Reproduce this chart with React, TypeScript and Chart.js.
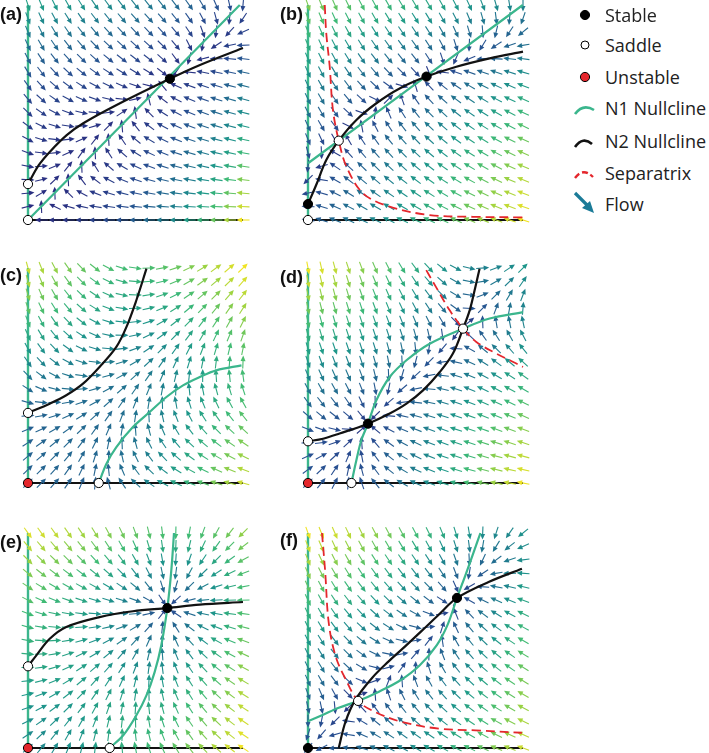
import React, { useEffect, useRef } from "react";
import { Chart, registerables } from "chart.js";
Chart.register(...registerables);

type P = [number, number];

// ---------- grid of flow arrows (both axes) ----------
const GRID: number[] = [0, 0.0625, 0.125, 0.1875, 0.25, 0.3125, 0.375, 0.4375, 0.5, 0.5625, 0.625, 0.6875, 0.75, 0.8125, 0.875, 0.9375, 1];

// ---------- panel (a) ----------
const A_N1: P[] = [[0, 0], [0.985, 1]];
const A_N2: P[] = [[0, 0.167], [0.05, 0.255], [0.102, 0.318], [0.18, 0.395], [0.257, 0.45], [0.412, 0.535], [0.66, 0.657], [0.8, 0.721], [1, 0.8]];
const A_SEP: P[] = [];
const A_STABLE: P[] = [[0.66, 0.657]];
const A_SADDLE: P[] = [[0, 0], [0, 0.167]];
const A_UNSTABLE: P[] = [];

// ---------- panel (b) ----------
const B_N1: P[] = [[0, 0.264], [0.999, 1]];
const B_N2: P[] = [[0, 0.074], [0.039, 0.165], [0.085, 0.279], [0.143, 0.369], [0.225, 0.465], [0.318, 0.543], [0.426, 0.612], [0.551, 0.667], [0.69, 0.713], [0.845, 0.752], [1, 0.783]];
const B_SEP: P[] = [[0.078, 1], [0.085, 0.868], [0.101, 0.713], [0.116, 0.512], [0.143, 0.369], [0.179, 0.248], [0.256, 0.124], [0.38, 0.062], [0.566, 0.023], [0.767, 0.015], [1, 0.012]];
const B_STABLE: P[] = [[0.551, 0.667], [0, 0.074]];
const B_SADDLE: P[] = [[0.143, 0.369], [0, 0]];
const B_UNSTABLE: P[] = [];

// ---------- panel (c) ----------
const C_N1: P[] = [[0.329, 0], [0.365, 0.09], [0.411, 0.167], [0.488, 0.26], [0.566, 0.33], [0.644, 0.4], [0.721, 0.454], [0.799, 0.493], [0.876, 0.524], [0.993, 0.547]];
const C_N2: P[] = [[0, 0.326], [0.101, 0.369], [0.178, 0.408], [0.256, 0.462], [0.333, 0.54], [0.411, 0.633], [0.458, 0.726], [0.504, 0.85], [0.551, 0.997]];
const C_SEP: P[] = [];
const C_STABLE: P[] = [];
const C_SADDLE: P[] = [[0, 0.326], [0.329, 0]];
const C_UNSTABLE: P[] = [[0, 0]];

// ---------- panel (d) ----------
const D_N1: P[] = [[0.202, 0], [0.225, 0.106], [0.248, 0.199], [0.279, 0.276], [0.318, 0.385], [0.38, 0.493], [0.458, 0.571], [0.566, 0.648], [0.721, 0.718], [0.845, 0.765], [1, 0.795]];
const D_N2: P[] = [[0, 0.194], [0.07, 0.206], [0.147, 0.23], [0.279, 0.276], [0.38, 0.323], [0.458, 0.369], [0.535, 0.431], [0.613, 0.516], [0.674, 0.602], [0.721, 0.718], [0.752, 0.803], [0.775, 0.896], [0.798, 0.997]];
const D_SEP: P[] = [[0.55, 0.99], [0.595, 0.912], [0.659, 0.803], [0.721, 0.718], [0.783, 0.656], [0.876, 0.602], [0.938, 0.571], [1, 0.54]];
const D_STABLE: P[] = [[0.279, 0.276]];
const D_SADDLE: P[] = [[0.721, 0.718], [0, 0.194], [0.202, 0]];
const D_UNSTABLE: P[] = [[0, 0]];

// ---------- panel (e) ----------
const E_N1: P[] = [[0.38, 0], [0.443, 0.059], [0.504, 0.152], [0.551, 0.245], [0.589, 0.353], [0.62, 0.478], [0.648, 0.651], [0.663, 0.787], [0.672, 0.896], [0.679, 1]];
const E_N2: P[] = [[0, 0.38], [0.039, 0.431], [0.101, 0.508], [0.178, 0.563], [0.333, 0.609], [0.488, 0.636], [0.648, 0.651], [0.799, 0.667], [1, 0.679]];
const E_SEP: P[] = [];
const E_STABLE: P[] = [[0.648, 0.651]];
const E_SADDLE: P[] = [[0, 0.38], [0.38, 0]];
const E_UNSTABLE: P[] = [[0, 0]];

// ---------- panel (f) ----------
const F_N1: P[] = [[0, 0.124], [0.065, 0.152], [0.143, 0.187], [0.233, 0.219], [0.33, 0.262], [0.43, 0.315], [0.52, 0.385], [0.6, 0.48], [0.65, 0.575], [0.693, 0.698], [0.732, 0.803], [0.771, 0.912], [0.802, 1]];
const F_N2: P[] = [[0.143, 0], [0.174, 0.121], [0.22, 0.224], [0.298, 0.326], [0.375, 0.403], [0.453, 0.474], [0.53, 0.546], [0.608, 0.62], [0.693, 0.698], [0.84, 0.772], [0.995, 0.834]];
const F_SEP: P[] = [[0.065, 1], [0.08, 0.819], [0.096, 0.586], [0.127, 0.431], [0.174, 0.322], [0.233, 0.219], [0.313, 0.167], [0.437, 0.121], [0.608, 0.09], [0.779, 0.082], [0.995, 0.071]];
const F_STABLE: P[] = [[0.693, 0.698], [0, 0]];
const F_SADDLE: P[] = [[0.233, 0.219]];
const F_UNSTABLE: P[] = [];

// ---------- legend ----------
const LEGEND_LABELS: string[] = ["Stable", "Saddle", "Unstable", "N1 Nullcline", "N2 Nullcline", "Separatrix", "Flow"];

// ---------- styles ----------
const GREEN = "#3bb68d";
const BLACK = "#121212";
const RED = "#e4262c";
const FLOW = "#1b7b98";
const PAD = 10;

const CMAP: number[][] = [
  [0.0, 42, 44, 128],
  [0.2, 40, 80, 145],
  [0.4, 32, 120, 143],
  [0.55, 30, 152, 138],
  [0.7, 62, 186, 118],
  [0.85, 152, 210, 68],
  [1.0, 240, 228, 36],
];

function cmap(t: number): string {
  t = Math.max(0, Math.min(1, t));
  for (let i = 0; i < CMAP.length - 1; i++) {
    const a = CMAP[i], b = CMAP[i + 1];
    if (t <= b[0]) {
      const f = (t - a[0]) / (b[0] - a[0]);
      const r = Math.round(a[1] + f * (b[1] - a[1]));
      const g = Math.round(a[2] + f * (b[2] - a[2]));
      const bl = Math.round(a[3] + f * (b[3] - a[3]));
      return `rgb(${r},${g},${bl})`;
    }
  }
  return "rgb(240,228,36)";
}

function extend(poly: P[]): P[] {
  const n = poly.length;
  const [x0, y0] = poly[0], [x1, y1] = poly[1];
  const [xa, ya] = poly[n - 2], [xb, yb] = poly[n - 1];
  const l0 = Math.hypot(x1 - x0, y1 - y0), l1 = Math.hypot(xb - xa, yb - ya);
  const s: P = [x0 - (3 * (x1 - x0)) / l0, y0 - (3 * (y1 - y0)) / l0];
  const e: P = [xb + (3 * (xb - xa)) / l1, yb + (3 * (yb - ya)) / l1];
  return [s, ...poly, e];
}

function signedDist(poly: P[], x: number, y: number): number {
  const pts = extend(poly);
  let best = Infinity, sign = 1;
  for (let i = 0; i < pts.length - 1; i++) {
    const [ax, ay] = pts[i], [bx, by] = pts[i + 1];
    const dx = bx - ax, dy = by - ay;
    const l2 = dx * dx + dy * dy;
    let t = ((x - ax) * dx + (y - ay) * dy) / l2;
    t = Math.max(0, Math.min(1, t));
    const d = Math.hypot(x - (ax + t * dx), y - (ay + t * dy));
    if (d < best) {
      best = d;
      sign = dx * (y - ay) - dy * (x - ax) >= 0 ? 1 : -1;
    }
  }
  return sign * best;
}

interface Panel {
  label: string; left: number; top: number; right: number; bottom: number; labelX: number; labelY: number;
  n1: P[]; n2: P[]; sep: P[]; stable: P[]; saddle: P[]; unstable: P[];
  k1: number; e1: number; k2: number; e2: number; gamma: number;
}

const PANELS: Panel[] = [
  { label: "(a)", left: 28, top: 5, right: 243, bottom: 220, labelX: 0, labelY: 4, n1: A_N1, n2: A_N2, sep: A_SEP, stable: A_STABLE, saddle: A_SADDLE, unstable: A_UNSTABLE, k1: 1, e1: 0.25, k2: 0.85, e2: 0, gamma: 1.1 },
  { label: "(b)", left: 308, top: 5, right: 523, bottom: 220, labelX: 280, labelY: 4, n1: B_N1, n2: B_N2, sep: B_SEP, stable: B_STABLE, saddle: B_SADDLE, unstable: B_UNSTABLE, k1: 1, e1: 0.5, k2: 1, e2: 0.5, gamma: 0.6 },
  { label: "(c)", left: 28, top: 268, right: 243, bottom: 483, labelX: 0, labelY: 265, n1: C_N1, n2: C_N2, sep: C_SEP, stable: C_STABLE, saddle: C_SADDLE, unstable: C_UNSTABLE, k1: 1, e1: 0.2, k2: 1, e2: 0.2, gamma: 0.6 },
  { label: "(d)", left: 308, top: 268, right: 523, bottom: 483, labelX: 280, labelY: 267, n1: D_N1, n2: D_N2, sep: D_SEP, stable: D_STABLE, saddle: D_SADDLE, unstable: D_UNSTABLE, k1: 1, e1: 0.3, k2: 1, e2: 0.3, gamma: 0.6 },
  { label: "(e)", left: 28, top: 533, right: 243, bottom: 748, labelX: 0, labelY: 532, n1: E_N1, n2: E_N2, sep: E_SEP, stable: E_STABLE, saddle: E_SADDLE, unstable: E_UNSTABLE, k1: 1, e1: 1, k2: 1, e2: 1, gamma: 0.6 },
  { label: "(f)", left: 308, top: 533, right: 523, bottom: 748, labelX: 280, labelY: 530, n1: F_N1, n2: F_N2, sep: F_SEP, stable: F_STABLE, saddle: F_SADDLE, unstable: F_UNSTABLE, k1: 1, e1: 0.5, k2: 1, e2: 0.5, gamma: 0.6 },
];

function field(p: Panel, x: number, y: number): [number, number] {
  const f1 = signedDist(p.n1, x, y);
  const f2 = -signedDist(p.n2, x, y);
  return [p.k1 * (x + p.e1) * f1, p.k2 * (y + p.e2) * f2];
}

const quiverPlugin = {
  id: "quiver",
  afterDatasetDraw(chart: any, args: any) {
    const ds = chart.data.datasets[args.index];
    if (!ds.quiver) return;
    const ctx: CanvasRenderingContext2D = chart.ctx;
    const xs = chart.scales.x, ys = chart.scales.y;
    const sx = xs.getPixelForValue(1) - xs.getPixelForValue(0);
    const sy = ys.getPixelForValue(0) - ys.getPixelForValue(1);
    const L = 13, HL = 5.5, HW = 2.5;
    ctx.save();
    args.meta.data.forEach((el: any, i: number) => {
      const q = ds.quiver[i];
      let dx = q.u * sx, dy = -q.v * sy;
      const n = Math.hypot(dx, dy);
      if (n === 0) return;
      dx /= n; dy /= n;
      const tx = el.x - (dx * L) / 2, ty = el.y - (dy * L) / 2;
      const hx = el.x + (dx * L) / 2, hy = el.y + (dy * L) / 2;
      const bx = hx - dx * HL, by = hy - dy * HL;
      ctx.strokeStyle = q.color;
      ctx.fillStyle = q.color;
      ctx.lineWidth = 1.1;
      ctx.beginPath();
      ctx.moveTo(tx, ty);
      ctx.lineTo(bx + dx * 1, by + dy * 1);
      ctx.stroke();
      ctx.beginPath();
      ctx.moveTo(hx, hy);
      ctx.lineTo(bx - dy * HW, by + dx * HW);
      ctx.lineTo(bx + dy * HW, by - dx * HW);
      ctx.closePath();
      ctx.fill();
    });
    ctx.restore();
  },
};

const toXY = (a: P[]) => a.map(([x, y]) => ({ x, y }));

function PanelChart({ p }: { p: Panel }) {
  const ref = useRef<HTMLCanvasElement>(null);
  const W = p.right - p.left + 2 * PAD;
  const H = p.bottom - p.top + 2 * PAD;
  useEffect(() => {
    const pts: { x: number; y: number }[] = [];
    const raw: [number, number][] = [];
    let maxM = 0;
    for (const gy of GRID) {
      for (const gx of GRID) {
        const f = field(p, gx, gy);
        pts.push({ x: gx, y: gy });
        raw.push(f);
        maxM = Math.max(maxM, Math.hypot(f[0], f[1]));
      }
    }
    const quiver = raw.map(([u, v]) => ({ u, v, color: cmap(Math.pow(Math.hypot(u, v) / maxM, p.gamma)) }));
    const line = (data: P[], color: string, width: number, dash: number[] = []) => ({
      data: toXY(data), showLine: true, borderColor: color, borderWidth: width, borderDash: dash,
      pointRadius: 0, tension: 0.35, clip: false, fill: false,
    });
    const marks = (data: P[], fillColor: string) => ({
      data: toXY(data), showLine: false, pointRadius: 4.6, pointBackgroundColor: fillColor,
      pointBorderColor: "#000", pointBorderWidth: 1, clip: false,
    });
    const chart = new Chart(ref.current!, {
      type: "scatter",
      data: {
        datasets: [
          marks(p.stable, "#000"),
          marks(p.saddle, "#fff"),
          marks(p.unstable, RED),
          line(p.sep, RED, 1.8, [9, 5]),
          line(p.n2, BLACK, 2.2),
          line(p.n1, GREEN, 2.2),
          { data: pts, pointRadius: 0, showLine: false, clip: false, quiver } as any,
          line([[0, 0], [1, 0]], BLACK, 2.2),
          line([[0, 0], [0, 1]], GREEN, 2.4),
        ] as any,
      },
      options: {
        animation: false,
        responsive: false,
        maintainAspectRatio: false,
        devicePixelRatio: 1,
        events: [],
        layout: { padding: PAD },
        plugins: { legend: { display: false }, tooltip: { enabled: false } },
        scales: {
          x: { type: "linear", min: 0, max: 1, display: false },
          y: { type: "linear", min: 0, max: 1, display: false },
        },
      } as any,
      plugins: [quiverPlugin as any],
    });
    return () => chart.destroy();
  }, []);
  return (
    <>
      <canvas ref={ref} width={W} height={H}
        style={{ position: "absolute", left: p.left - PAD, top: p.top - PAD, width: W, height: H }} />
      <div style={{ position: "absolute", left: p.labelX, top: p.labelY, font: "bold 18px 'Liberation Sans', Arial, sans-serif", color: "#111", lineHeight: "20px" }}>
        {p.label}
      </div>
    </>
  );
}

const LEGEND_Y: number[] = [15, 45, 77, 108, 141, 173, 204];

function Legend() {
  const ox = 560;
  return (
    <>
      <svg width={60} height={225} style={{ position: "absolute", left: ox, top: 0 }}>
        <circle cx={25} cy={LEGEND_Y[0]} r={4.6} fill="#000" stroke="#000" strokeWidth={1} />
        <circle cx={25} cy={LEGEND_Y[1]} r={4} fill="#fff" stroke="#000" strokeWidth={1} />
        <circle cx={25} cy={LEGEND_Y[2]} r={4.6} fill={RED} stroke="#000" strokeWidth={1} />
        <path d={`M15 ${LEGEND_Y[3] + 6} Q23 ${LEGEND_Y[3] - 5} 34 ${LEGEND_Y[3] + 2}`} fill="none" stroke={GREEN} strokeWidth={2.6} />
        <path d={`M15 ${LEGEND_Y[4] + 6} Q23 ${LEGEND_Y[4] - 5} 32 ${LEGEND_Y[4] + 3}`} fill="none" stroke={BLACK} strokeWidth={2.6} />
        <path d={`M15 ${LEGEND_Y[5] + 5} Q23 ${LEGEND_Y[5] - 6} 33 ${LEGEND_Y[5] + 4}`} fill="none" stroke={RED} strokeWidth={2.4} strokeDasharray="6 3" />
        <line x1={15} y1={LEGEND_Y[6] - 11} x2={28} y2={LEGEND_Y[6] + 2} stroke={FLOW} strokeWidth={3.2} />
        <polygon points={`${34},${LEGEND_Y[6] + 9} ${22},${LEGEND_Y[6] + 4} ${30},${LEGEND_Y[6] - 3}`} fill={FLOW} />
      </svg>
      {LEGEND_LABELS.map((t, i) => (
        <div key={t} style={{ position: "absolute", left: 605, top: LEGEND_Y[i] - 12, lineHeight: "24px", font: "18px 'Open Sans', 'Noto Sans', sans-serif", color: "#222", whiteSpace: "nowrap" }}>
          {t}
        </div>
      ))}
    </>
  );
}

export default function App() {
  return (
    <div style={{ position: "absolute", left: 0, top: 0, width: 709, height: 753, background: "#fff", overflow: "hidden" }}>
      {PANELS.map((p) => (
        <PanelChart key={p.label} p={p} />
      ))}
      <Legend />
    </div>
  );
}
